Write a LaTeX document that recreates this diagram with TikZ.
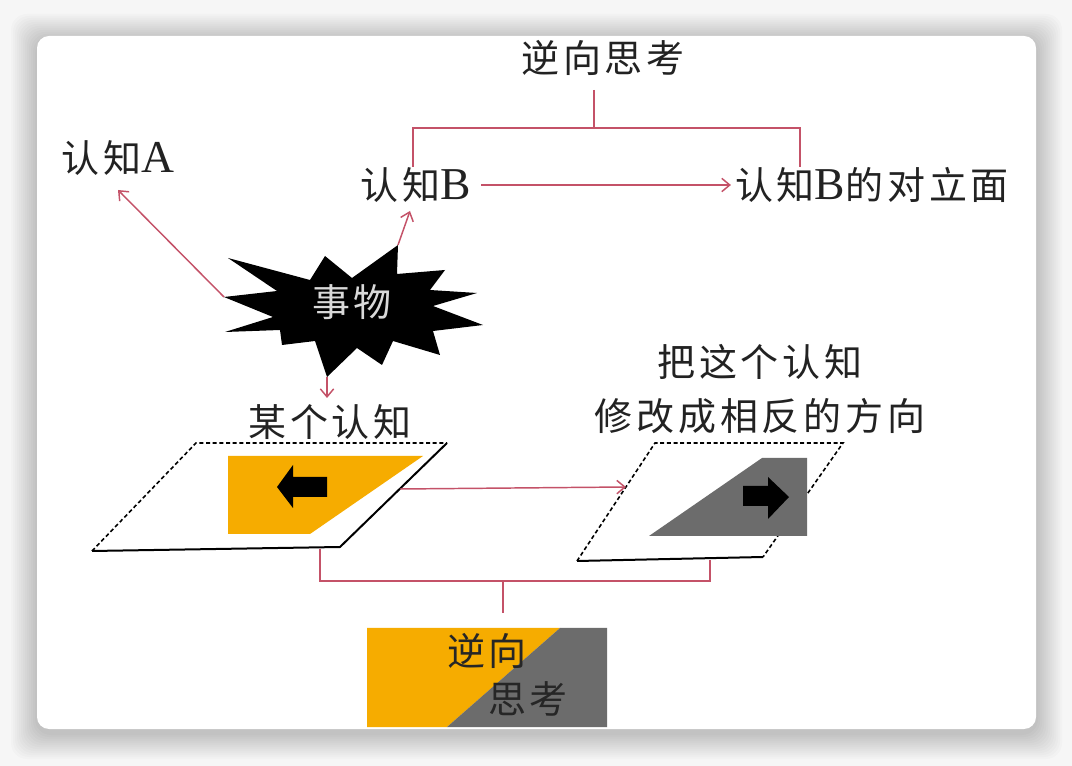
\documentclass[tikz,border=0pt]{standalone}
\usepackage{fontspec}
\newfontfamily\cjk[LetterSpace=10]{Noto Sans CJK SC}
\newfontfamily\latin[Scale=1.2]{Liberation Serif}
\usetikzlibrary{positioning,calc,arrows.meta}
\definecolor{linered}{RGB}{196,82,104}
\definecolor{signorange}{RGB}{246,172,0}
\definecolor{signgray}{RGB}{108,108,108}
\definecolor{inkgray}{RGB}{34,34,34}
\definecolor{pagegray}{RGB}{246,246,246}

\tikzset{
    cjktext/.style={font=\cjk\fontsize{28.5}{32}\selectfont, text=inkgray, inner sep=0pt},
    link/.style={draw=linered, line width=1.1pt},
    redarrow/.style={link, -{Straight Barb[length=6pt,width=10pt]}},
    dashedge/.style={black, line width=1.2pt, dash pattern=on 3pt off 2pt},
    solidedge/.style={black, line width=1.5pt},
}

\begin{document}
\begin{tikzpicture}[x=0.75pt, y=-0.75pt]
    % Page and card
    \fill[pagegray] (0,0) rectangle (1072,766);
    \useasboundingbox (0,0) rectangle (1072,766);
    \foreach \s in {2,4,...,26}
        \fill[black, opacity=0.016, rounded corners=12pt] (37-\s,36-\s+4) rectangle (1036+\s,729+\s+4);
    \fill[white, rounded corners=9pt] (37,36) rectangle (1036,729);

    % Top: reverse thinking
    \node[cjktext] (rev) at (603,58) {逆向思考};
    \coordinate (revfoot) at (594,90);
    \coordinate (fork) at (594,128);
    \coordinate (forkL) at (413,167);
    \coordinate (forkR) at (800,167);
    \draw[link] (revfoot) -- (fork);
    \draw[link] (forkL) -- (forkL |- fork) -- (forkR |- fork) -- (forkR);

    % Cognitions
    \node[cjktext] (cogA) at (118,158) {认知{\latin A}};
    \node[cjktext] (cogB) at (416,185) {认知{\latin B}};
    \node[cjktext] (opp) at (872,185) {认知{\latin B}的对立面};
    \draw[redarrow] (cogB.east) ++(10,0) coordinate (cogBout) (cogBout) -- ([xshift=-3]opp.west);

    % Star
    \coordinate (spikeL) at (224,297);
    \coordinate (spikeT) at (398,245);
    \coordinate (spikeD) at (327,377);
    \fill[black] (228,258) -- (310,280) -- (325,256) -- (352,278) -- (spikeT) -- (397,274)
        -- (445,270) -- (430,290) -- (477,293) -- (433,306) -- (483,325) -- (433,331)
        -- (440,355) -- (393,341) -- (382,365) -- (357,348) -- (spikeD) -- (315,341)
        -- (282,345) -- (280,330) -- (225,332) -- (273,317) -- (spikeL) -- (277,291) -- cycle;
    \node[cjktext, text=gray!30] (thing) at (352,302) {事物};

    \coordinate (tipA) at (118,190);
    \coordinate (tipB) at (410,211);
    \coordinate (tipD) at (327,398);
    \draw[redarrow] (spikeL) -- (tipA);
    \draw[redarrow] (spikeT) -- (tipB);
    \draw[redarrow] (spikeD) -- (tipD);

    % Some cognition (left card)
    \node[cjktext] (some) at (330,422) {某个认知};
    \fill[white] (196,443) -- (447,443) -- (340,547) -- (92,551) -- cycle;
    \fill[signorange] (228,456) -- (423,456) -- (310,534) -- (228,534) -- cycle;
    \fill[black] (277,487) -- (293,465) -- (293,477) -- (327,477) -- (327,497) -- (293,497) -- (293,508) -- cycle;
    \draw[dashedge] (92,551) -- (196,443) -- (447,443);
    \draw[solidedge] (447,443) -- (340,547) -- (92,551);

    % Reversed cognition (right card)
    \node[cjktext, align=center] (flip1) at (760,362) {把这个认知};
    \node[cjktext, align=center] (flip2) at (760,416) {修改成相反的方向};
    \draw[dashedge] (577,561) -- (655,443) -- (843,443) -- (763,557);
    \fill[signgray] (762,458) -- (807,458) -- (807,536) -- (649,536) -- cycle;
    \fill[black] (789,497) -- (768,477) -- (768,486) -- (743,486) -- (743,506) -- (768,506) -- (768,519) -- cycle;
    \draw[solidedge] (763,557) -- (577,561);

    \coordinate (leftedge) at (400,489);
    \coordinate (rightedge) at (626,487);
    \draw[redarrow] (leftedge) -- (rightedge);

    % Bottom bracket
    \coordinate (legL) at (320,549);
    \coordinate (legR) at (710,560);
    \coordinate (joint) at (503,581);
    \coordinate (stem) at (503,613);
    \draw[link] (legL) -- (legL |- joint) -- (legR |- joint) -- (legR);
    \draw[link] (joint) -- (stem);

    % Result
    \fill[signorange] (367,628) -- (560,628) -- (447,727) -- (367,727) -- cycle;
    \fill[signgray] (560,628) -- (607,628) -- (607,727) -- (447,727) -- cycle;
    \node[cjktext, text=black!85] (res1) at (487,651) {逆向};
    \node[cjktext, text=black!85] (res2) at (528,699) {思考};
\end{tikzpicture}
\end{document}
